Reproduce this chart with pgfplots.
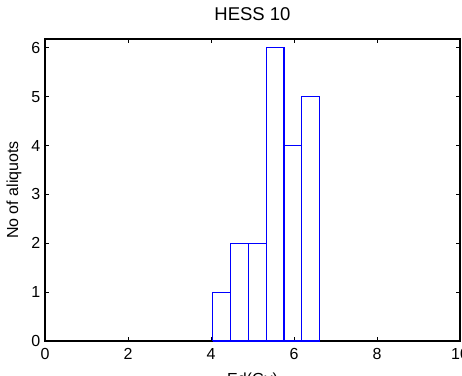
\documentclass[border=0pt]{standalone}
\usepackage{pgfplots}
\pgfplotsset{compat=1.18}
\usepackage{fontspec}
\setmainfont{Liberation Sans}
\definecolor{mblue}{RGB}{0,0,255}
\begin{document}
\begin{tikzpicture}[x=1pt,y=1pt]
\useasboundingbox (-45,-34) rectangle (417,341);
\begin{axis}[
  at={(0,0)}, anchor=south west,
  scale only axis, width=415pt, height=302pt,
  xmin=0, xmax=10, ymin=0, ymax=6.18,
  xtick={0,2,4,6,8,10}, ytick={0,1,2,3,4,5,6},
  tick align=inside, major tick length=4pt,
  tick style={black, line width=0.8pt},
  axis line style={black, line width=1.3pt},
  /pgf/number format/assume math mode=true,
  tick label style={font=\fontsize{16}{18}\selectfont},
  xticklabel style={inner sep=0pt, anchor=north, yshift=-7.5pt},
  yticklabel style={inner sep=0pt, anchor=east, xshift=-4.5pt},
  title={HESS 10},
  title style={font=\fontsize{18.5}{20}\selectfont, at={(axis description cs:0.5,1)}, anchor=base, yshift=12.3pt, inner sep=0pt},
  xlabel={Ed(Gy)},
  ylabel={No of aliquots},
  label style={font=\fontsize{16}{18}\selectfont, inner sep=0pt},
  xlabel style={at={(axis description cs:0.5,0)}, anchor=base, yshift=-43.5pt},
  ylabel style={at={(axis description cs:-0.065,0.5)}, anchor=base},
]
\addplot[const plot mark left, draw=mblue, line width=1.1pt, mark=none]
 coordinates {(4.04,0) (4.04,1) (4.47,1) (4.47,0) (4.47,2) (4.90,2) (4.90,0) (4.90,2) (5.33,2) (5.33,0) (5.33,6) (5.76,6) (5.76,0) (5.76,4) (6.19,4) (6.19,0) (6.19,5) (6.62,5) (6.62,0) (4.04,0)};
\end{axis}
\end{tikzpicture}
\end{document}
